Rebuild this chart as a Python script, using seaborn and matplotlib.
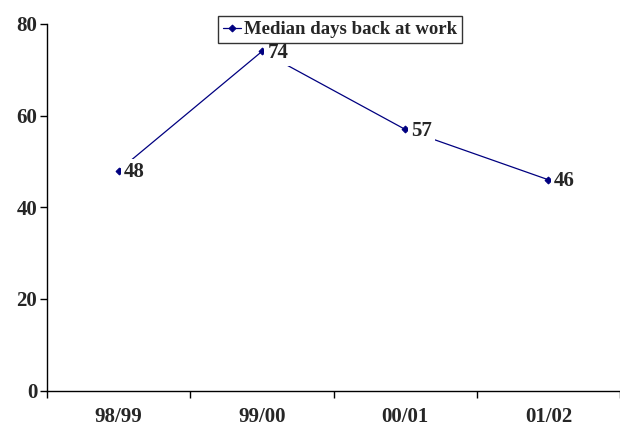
import matplotlib
matplotlib.use("Agg")
import matplotlib.pyplot as plt
import seaborn as sns
import numpy as np

# -------------------------------
# Data
# -------------------------------
years = ["98/99", "99/00", "00/01", "01/02"]
median_days = [48, 74, 57, 46]
series_name = "Median days back at work"

sns.set_style("white")
plt.rcParams["font.family"] = ["Liberation Serif", "DejaVu Serif"]
plt.rcParams["font.weight"] = "bold"

navy = "#000080"

fig = plt.figure(figsize=(6.2, 4.26), dpi=100)
ax = fig.add_axes([47 / 620, 35.5 / 426, 1 - 47 / 620, (390.5 - 24) / 426])

x = np.arange(len(years))
sns.lineplot(x=x, y=median_days, ax=ax, color=navy, marker="D", markersize=3.5,
             markeredgecolor=navy, linewidth=0.9, label=series_name)

# data labels with white background
for xi, v in zip(x, median_days):
    ax.annotate(str(v), (xi, v), xytext=(4, -1), textcoords="offset points",
                ha="left", va="center", fontsize=15, fontweight="bold",
                bbox=dict(boxstyle="square,pad=0.15", fc="white", ec="none"))

ax.set_ylim(0, 80)
ax.set_yticks([0, 20, 40, 60, 80])
ax.set_xlim(-0.5, -0.5 + 573 / 145.7)
ax.set_xticks(x)
ax.set_xticklabels(years)
ax.set_xticks(np.arange(len(years) + 1) - 0.5, minor=True)
ax.tick_params(axis="x", which="major", bottom=False, length=0, pad=12, labelsize=15)
ax.tick_params(axis="x", which="minor", bottom=True, length=5, width=1,
               direction="out", color="black")
ax.tick_params(axis="y", left=True, length=5, width=1, direction="out",
               color="black", labelsize=15, pad=2)
for t in ax.get_xticklabels() + ax.get_yticklabels():
    t.set_fontweight("bold")

for side in ["top", "right"]:
    ax.spines[side].set_visible(False)
for side in ["left", "bottom"]:
    ax.spines[side].set_color("black")
    ax.spines[side].set_linewidth(1)
ax.set_xlabel("")
ax.set_ylabel("")

leg = ax.legend(loc="center", bbox_to_anchor=(340 / 620, 1 - 29.5 / 426),
                bbox_transform=fig.transFigure, frameon=True, fancybox=False,
                handlelength=1.0, handletextpad=0.15, borderpad=0.25,
                borderaxespad=0, prop={"size": 13.5, "weight": "bold"})
leg.get_frame().set_edgecolor("black")
leg.get_frame().set_linewidth(1)

fig.savefig("out.png", dpi=100)
